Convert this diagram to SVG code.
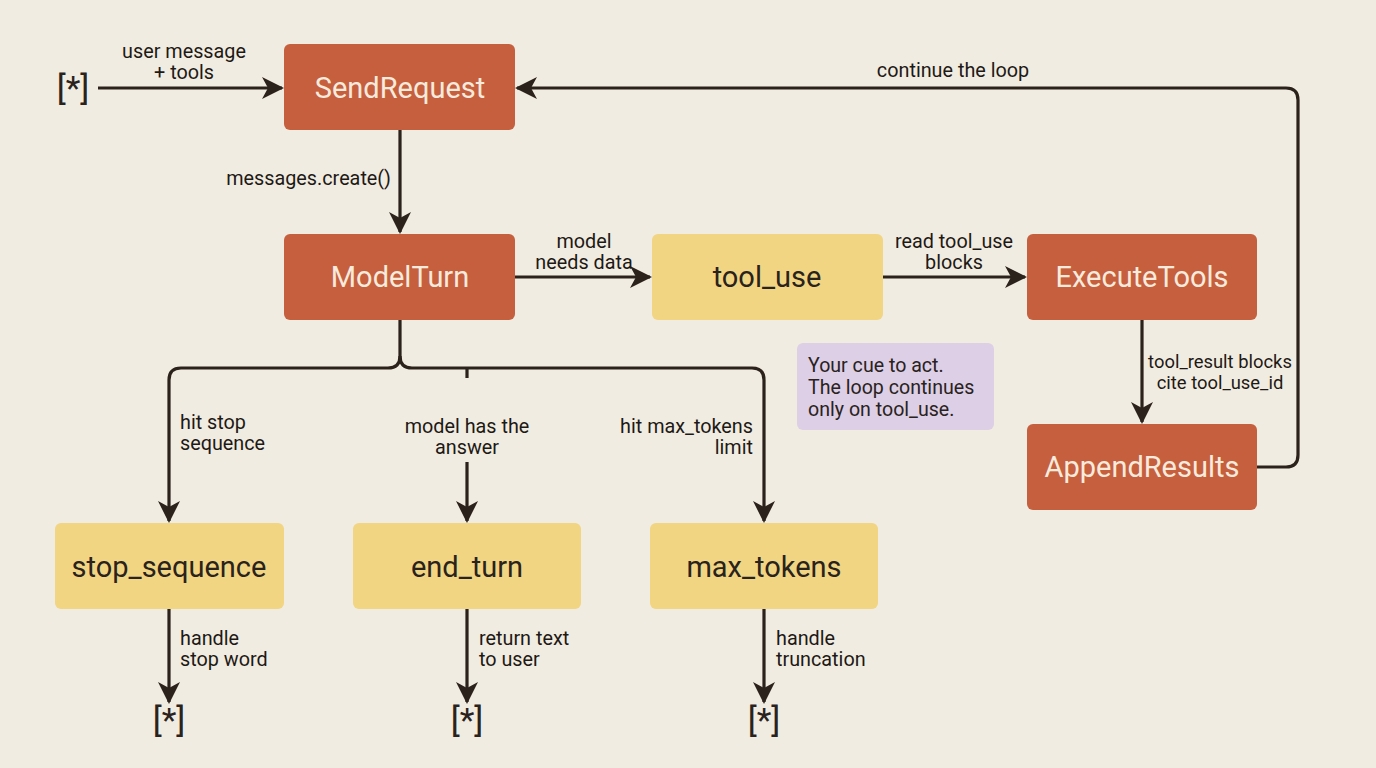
<svg xmlns="http://www.w3.org/2000/svg" width="1376" height="768" viewBox="0 0 1376 768">
<style>
.bg{fill:#F1ECE1}
.state{fill:#C65F3D}
.stop{fill:#F1D582}
.note{fill:#DCCFE6}
.t-state{font-family:Roboto,"Liberation Sans",sans-serif;font-size:29px;fill:#F8EBDD;text-anchor:middle;dominant-baseline:central}
.t-stop{font-family:Roboto,"Liberation Sans",sans-serif;font-size:29px;fill:#2A221C;text-anchor:middle;dominant-baseline:central}
.lbl{font-family:Roboto,"Liberation Sans",sans-serif;font-size:19.8px;fill:#1E1915}
.lbl-s{font-size:18.4px}
.note-t{font-family:Roboto,"Liberation Sans",sans-serif;font-size:19.6px;fill:#2A221C}
.term{font-family:Roboto,"Liberation Sans",sans-serif;font-size:34px;fill:#2A221C;text-anchor:middle}
.edge{fill:none;stroke:#2B221C;stroke-width:3.2;stroke-linejoin:round}
</style>
<defs>
<marker id="ah" viewBox="0 0 22 22" refX="20" refY="11" markerWidth="22" markerHeight="22" markerUnits="userSpaceOnUse" orient="auto">
<path d="M0,0 L22,11 L0,22 L6,11 z" fill="#2B221C"/>
</marker>
</defs>
<rect class="bg" x="0" y="0" width="1376" height="768"/>

<g id="connectors">
<path class="edge" d="M98,88 H282" marker-end="url(#ah)"/>
<path class="edge" d="M400,130 V232" marker-end="url(#ah)"/>
<path class="edge" d="M515,277 H650" marker-end="url(#ah)"/>
<path class="edge" d="M883,277 H1025" marker-end="url(#ah)"/>
<path class="edge" d="M1142,320 V422" marker-end="url(#ah)"/>
<path class="edge" d="M1257,467 H1286 Q1298,467 1298,455 V100 Q1298,88 1286,88 H517" marker-end="url(#ah)"/>
<path class="edge" d="M400,320 V356 Q400,368 388,368 H181 Q169,368 169,380 V521" marker-end="url(#ah)"/>
<path class="edge" d="M400,356 Q400,368 412,368 H752 Q764,368 764,380 V521" marker-end="url(#ah)"/>
<path class="edge" d="M467,368 V378"/>
<path class="edge" d="M467,462 V521" marker-end="url(#ah)"/>
<path class="edge" d="M169,609 V702" marker-end="url(#ah)"/>
<path class="edge" d="M467,609 V702" marker-end="url(#ah)"/>
<path class="edge" d="M764,609 V702" marker-end="url(#ah)"/>

<text class="lbl" text-anchor="middle"><tspan x="184" y="58">user message</tspan><tspan x="184" y="79">+ tools</tspan></text>
<text class="lbl" x="391" y="185" text-anchor="end">messages.create()</text>
<text class="lbl" text-anchor="middle"><tspan x="584" y="248">model</tspan><tspan x="584" y="269">needs data</tspan></text>
<text class="lbl" text-anchor="middle"><tspan x="954" y="248">read tool_use</tspan><tspan x="954" y="269">blocks</tspan></text>
<text class="lbl lbl-s" text-anchor="middle"><tspan x="1220" y="368">tool_result blocks</tspan><tspan x="1220" y="389">cite tool_use_id</tspan></text>
<text class="lbl" x="953" y="77" text-anchor="middle">continue the loop</text>
<text class="lbl"><tspan x="180" y="429">hit stop</tspan><tspan x="180" y="450">sequence</tspan></text>
<text class="lbl" text-anchor="middle"><tspan x="467" y="433">model has the</tspan><tspan x="467" y="454">answer</tspan></text>
<text class="lbl" text-anchor="end"><tspan x="753" y="433">hit max_tokens</tspan><tspan x="753" y="454">limit</tspan></text>
<text class="lbl"><tspan x="180" y="645">handle</tspan><tspan x="180" y="666">stop word</tspan></text>
<text class="lbl"><tspan x="479" y="645">return text</tspan><tspan x="479" y="666">to user</tspan></text>
<text class="lbl"><tspan x="776" y="645">handle</tspan><tspan x="776" y="666">truncation</tspan></text>
</g>

<g id="start"><text class="term" x="73" y="100">[*]</text></g>
<g id="SendRequest"><rect class="state" x="284" y="44" width="231" height="86" rx="6"/><text class="t-state" x="400" y="88">SendRequest</text></g>
<g id="ModelTurn"><rect class="state" x="284" y="234" width="231" height="86" rx="6"/><text class="t-state" x="400" y="277">ModelTurn</text></g>
<g id="tool_use"><rect class="stop" x="652" y="234" width="231" height="86" rx="6"/><text class="t-stop" x="767" y="277">tool_use</text></g>
<g id="ExecuteTools"><rect class="state" x="1027" y="234" width="230" height="86" rx="6"/><text class="t-state" x="1142" y="277">ExecuteTools</text></g>
<g id="AppendResults"><rect class="state" x="1027" y="424" width="230" height="86" rx="6"/><text class="t-state" x="1142" y="467">AppendResults</text></g>
<g id="stop_sequence"><rect class="stop" x="55" y="523" width="229" height="86" rx="6"/><text class="t-stop" x="169" y="567">stop_sequence</text></g>
<g id="end_turn"><rect class="stop" x="353" y="523" width="228" height="86" rx="6"/><text class="t-stop" x="467" y="567">end_turn</text></g>
<g id="max_tokens"><rect class="stop" x="650" y="523" width="228" height="86" rx="6"/><text class="t-stop" x="764" y="567">max_tokens</text></g>
<g id="note"><rect class="note" x="797" y="343" width="197" height="87" rx="6"/><text class="note-t" x="808" y="372">Your cue to act.</text><text class="note-t" x="808" y="394">The loop continues</text><text class="note-t" x="808" y="416">only on tool_use.</text></g>
<g id="end1"><text class="term" x="169" y="732">[*]</text></g>
<g id="end2"><text class="term" x="467" y="732">[*]</text></g>
<g id="end3"><text class="term" x="764" y="732">[*]</text></g>
</svg>
